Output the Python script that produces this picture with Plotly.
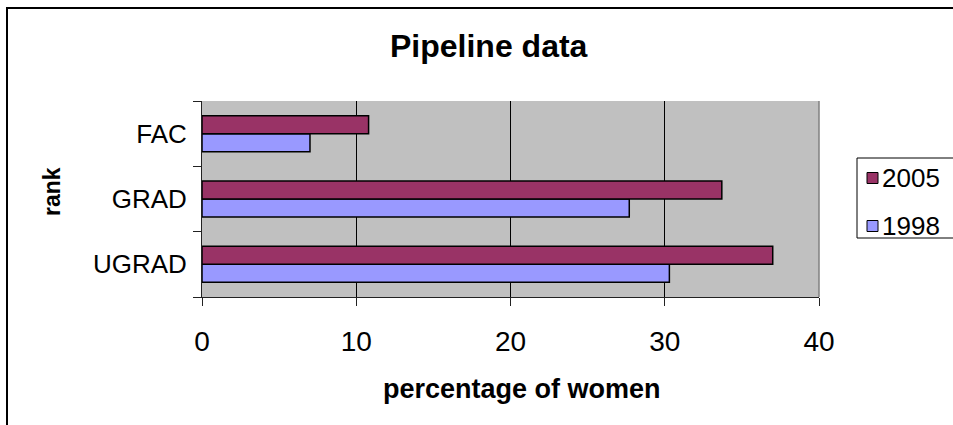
import plotly.graph_objects as go

# Pipeline data: percentage of women at each rank
ranks = ["UGRAD", "GRAD", "FAC"]
pct_1998 = [30.3, 27.7, 7.0]
pct_2005 = [37.0, 33.7, 10.8]
series_names = ["2005", "1998"]
x_ticks = [0, 10, 20, 30, 40]

COL_2005 = "#993366"
COL_1998 = "#9999FF"
FONT = "Liberation Sans, Arial, sans-serif"

# plot-area geometry in pixels (953 x 425 canvas)
L, R, T, B = 202, 819, 101, 297
W, H = 953, 425


def px_x(px):
    return (px - L) / (R - L)


def px_y(py):
    return (B - py) / (B - T)


fig = go.Figure()
fig.add_trace(go.Bar(y=ranks, x=pct_1998, orientation="h", name=series_names[1],
                     marker=dict(color=COL_1998, line=dict(color="#000000", width=1.5))))
fig.add_trace(go.Bar(y=ranks, x=pct_2005, orientation="h", name=series_names[0],
                     marker=dict(color=COL_2005, line=dict(color="#000000", width=1.5))))

fig.update_layout(
    width=W, height=H,
    margin=dict(l=L, r=W - R, t=T, b=H - B, autoexpand=False),
    paper_bgcolor="#FFFFFF",
    plot_bgcolor="#C0C0C0",
    barmode="group",
    bargap=0.45,
    bargroupgap=0,
    showlegend=False,
    font=dict(family=FONT, color="#000000"),
)

fig.update_xaxes(
    range=[0, 40], tickvals=x_ticks, ticktext=[str(v) for v in x_ticks],
    showgrid=True, gridcolor="#000000", gridwidth=1, zeroline=False,
    showline=True, linecolor="#222222", linewidth=1,
    ticks="outside", ticklen=8, tickcolor="#222222",
    tickfont=dict(size=28, family=FONT), ticklabelstandoff=11,
)
fig.update_yaxes(
    type="category", categoryorder="array", categoryarray=ranks,
    range=[-0.5, 2.5], showgrid=False, zeroline=False,
    showline=True, linecolor="#222222", linewidth=1,
    ticks="outside", ticklen=8, tickcolor="#222222", tickson="boundaries",
    tickfont=dict(size=26, family=FONT), ticklabelstandoff=9,
)

shapes = [
    # outer chart frame
    dict(type="rect", xref="paper", yref="paper",
         x0=px_x(7), x1=px_x(990), y0=px_y(460), y1=px_y(8),
         line=dict(color="#000000", width=2), layer="below"),
    # right edge of plot area
    dict(type="line", xref="paper", yref="paper", x0=1, x1=1, y0=0, y1=1,
         line=dict(color="#808080", width=1.5), layer="above"),
    # legend box
    dict(type="rect", xref="paper", yref="paper",
         x0=px_x(857), x1=px_x(1000), y0=px_y(238), y1=px_y(158),
         line=dict(color="#000000", width=1), fillcolor="#FFFFFF", layer="above"),
]

annotations = [
    dict(text="<b>Pipeline data</b>", xref="paper", yref="paper",
         x=px_x(489), y=px_y(46), showarrow=False,
         font=dict(size=32, family=FONT), xanchor="center", yanchor="middle"),
    dict(text="<b>percentage of women</b>", xref="paper", yref="paper",
         x=px_x(522), y=px_y(389), showarrow=False,
         font=dict(size=27, family=FONT), xanchor="center", yanchor="middle"),
    dict(text="<b>rank</b>", xref="paper", yref="paper",
         x=px_x(52), y=px_y(192), showarrow=False, textangle=-90,
         font=dict(size=23, family=FONT), xanchor="center", yanchor="middle"),
]

# legend entries (2005 above 1998)
legend_rows = [(series_names[0], COL_2005, 178), (series_names[1], COL_1998, 226)]
for name, col, cy in legend_rows:
    shapes.append(dict(type="rect", xref="paper", yref="paper",
                       x0=px_x(867), x1=px_x(878), y0=px_y(cy + 5.5), y1=px_y(cy - 5.5),
                       line=dict(color="#000000", width=1), fillcolor=col, layer="above"))
    annotations.append(dict(text=name, xref="paper", yref="paper",
                            x=px_x(880), y=px_y(cy), showarrow=False,
                            font=dict(size=26, family=FONT),
                            xanchor="left", yanchor="middle"))

fig.update_layout(shapes=shapes, annotations=annotations)

fig.write_html("out.html")
